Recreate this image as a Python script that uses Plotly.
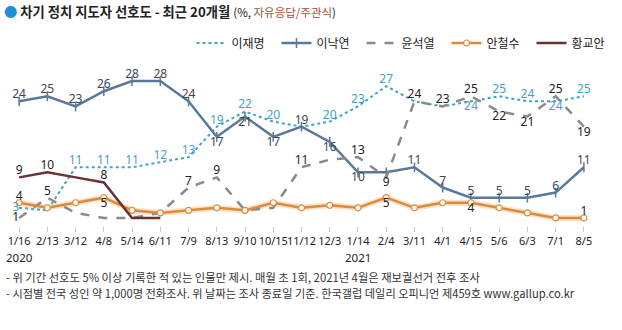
import plotly.graph_objects as go

# ---------------- data ----------------
dates = ["1/16", "2/13", "3/12", "4/8", "5/14", "6/11", "7/9", "8/13", "9/10", "10/15",
         "11/12", "12/3", "1/14", "2/4", "3/11", "4/1", "4/15", "5/6", "6/3", "7/1", "8/5"]

lee_jm = [3, 2.5, 11, 11, 11, 12, 13, 19, 22, 20, 19, 20, 23, 27, 24, 23, 24, 25, 24, 24, 25]
lee_ny = [24, 25, 23, 26, 28, 28, 24, 17, 21, 17, 19, 16, 10, 10, 11, 7, 5, 5, 5, 6, 11]
yoon = [1, 5, 2, 1, 1, 2, 7, 9, 2.5, 3, 11, 12.5, 13, 9, 24, 23, 25, 22, 21, 25, 19]
ahn = [4, 3, 4, 5, 2.5, 2, 2.5, 3, 2.5, 4, 3, 3.5, 3, 5, 3, 4, 4, 3, 2, 1, 1]
hwang = [9, 10, 9, 8, 1, 1] + [None] * 15

names = ["이재명", "이낙연", "윤석열", "안철수", "황교안"]

# label placement (style): "" = no label
T_, B_, L_ = "top center", "bottom center", "middle left"
lee_jm_lab = [L_, "", T_, T_, T_, T_, T_, T_, T_, T_, "", T_, T_, T_, "", "", B_, T_, T_, B_, T_]
lee_ny_lab = [T_, T_, T_, T_, T_, T_, T_, B_, B_, B_, T_, B_, B_, "", T_, T_, T_, T_, T_, T_, T_]
yoon_lab = [L_, T_, "", "", "", "", T_, T_, "", "", T_, "", T_, B_, T_, T_, T_, B_, B_, T_, B_]
ahn_lab = [T_, "", "", B_, "", "", "", "", "", "", "", "", "", B_, "", "", B_, "", "", "", T_]
hwang_lab = [T_, T_, "", T_, "", ""] + [""] * 15

year_labels = [("2020", "1/16"), ("2021", "1/14")]
note1 = "- 위 기간 선호도 5% 이상 기록한 적 있는 인물만 제시. 매월 초 1회, 2021년 4월은 재보궐선거 전후 조사"
note2 = "- 시점별 전국 성인 약 1,000명 전화조사. 위 날짜는 조사 종료일 기준. 한국갤럽 데일리 오피니언 제459호 www.gallup.co.kr"

# ---------------- style ----------------
W, H = 622, 330
ML, MR, MT, MB = 5, 8, 62, 104
PW, PH = W - ML - MR, H - MT - MB
YMAX = 31.76
YMIN = YMAX - PH / 5.07

FONT = "Noto Sans CJK KR, Noto Sans, sans-serif"
NUMFONT = "Noto Sans, sans-serif"
C_JM = "#3fa3c4"
C_NY = "#5a7899"
C_YOON = "#8a8a8a"
C_AHN = "#dd8a3c"
C_HWANG = "#6b3036"


def px_x(p):
    return (p - ML) / PW


def px_y(p):
    return (H - MB - p) / PH


fig = go.Figure()

# halo under 안철수 line
fig.add_trace(go.Scatter(x=dates, y=ahn, mode="lines", showlegend=False, hoverinfo="skip",
                         line=dict(color="rgba(245,190,140,0.45)", width=6)))

series = [
    (names[0], lee_jm, dict(color=C_JM, width=2, dash="dot"), None, lee_jm_lab, C_JM),
    (names[1], lee_ny, dict(color=C_NY, width=2.5), dict(symbol="line-ns", size=7,
                                                         line=dict(color=C_NY, width=1.5)), lee_ny_lab, "#3d4652"),
    (names[2], yoon, dict(color=C_YOON, width=2.5, dash="dash"), None, yoon_lab, "#222"),
    (names[3], ahn, dict(color=C_AHN, width=2.5), dict(symbol="circle", size=6, color="white",
                                                        line=dict(color=C_AHN, width=1.2)), ahn_lab, "#222"),
    (names[4], hwang, dict(color=C_HWANG, width=2.5), None, hwang_lab, "#222"),
]

for name, vals, line, marker, labs, tcol in series:
    fig.add_trace(go.Scatter(x=dates, y=vals, name=name, mode="lines+markers" if marker else "lines",
                             line=line, marker=marker, connectgaps=False))

for name, vals, line, marker, labs, tcol in series:
    txt = [("" if (v is None or lab == "") else str(int(round(v)))) for v, lab in zip(vals, labs)]
    pos = [lab if lab else "top center" for lab in labs]
    fig.add_trace(go.Scatter(x=dates, y=vals, mode="text", text=txt, textposition=pos,
                             showlegend=False, hoverinfo="skip",
                             textfont=dict(family=NUMFONT, size=12, color=tcol)))

annotations = []
annotations.append(dict(
    xref="paper", yref="paper", x=px_x(2), y=px_y(12), xanchor="left", yanchor="middle",
    text="<span style='color:#1e8fd8'>●</span> <b>차기 정치 지도자 선호도 - 최근 20개월</b> "
         "<span style='font-size:11.5px'>(%, <span style='color:#a5523a'>자유응답/주관식</span>)</span>",
    showarrow=False, font=dict(family=FONT, size=13.3, color="#222")))
for lab, cat in year_labels:
    annotations.append(dict(xref="x", yref="paper", x=cat, y=px_y(257), xanchor="center", yanchor="middle",
                            text=lab, showarrow=False, font=dict(family=NUMFONT, size=11.5, color="#222")))
annotations.append(dict(xref="paper", yref="paper", x=px_x(4), y=px_y(277), xanchor="left", yanchor="middle",
                        text=note1, showarrow=False, font=dict(family=FONT, size=11.3, color="#333")))
annotations.append(dict(xref="paper", yref="paper", x=px_x(4), y=px_y(293), xanchor="left", yanchor="middle",
                        text=note2, showarrow=False, font=dict(family=FONT, size=11.2, color="#333")))

fig.update_layout(
    width=W, height=H, margin=dict(l=ML, r=MR, t=MT, b=MB),
    paper_bgcolor="white", plot_bgcolor="white",
    font=dict(family=FONT, color="#222"),
    showlegend=True,
    legend=dict(orientation="h", x=px_x(633), y=px_y(43), xanchor="right", yanchor="middle",
                font=dict(family=FONT, size=12, color="#222"), entrywidth=40, entrywidthmode="pixels",
                bgcolor="rgba(0,0,0,0)", itemclick=False, itemdoubleclick=False, tracegroupgap=0),
    xaxis=dict(type="category", range=[-0.5, len(dates) - 0.5], showgrid=False, zeroline=False,
               showline=False, ticks="outside", ticklen=5, tickcolor="#c8c8c8", tickangle=0,
               tickfont=dict(family=NUMFONT, size=11, color="#222"), fixedrange=True),
    yaxis=dict(range=[YMIN, YMAX], visible=False, fixedrange=True),
    annotations=annotations,
)

fig.write_html("out.html")
